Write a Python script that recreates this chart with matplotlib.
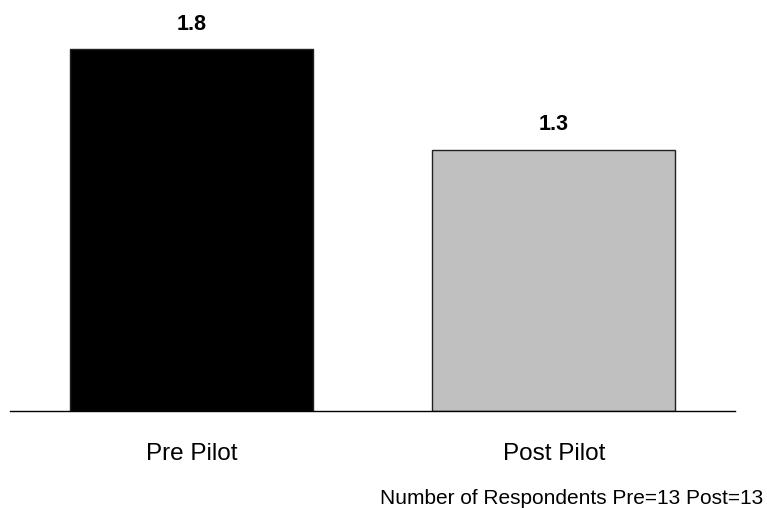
import matplotlib.pyplot as plt

# data
categories = ['Pre Pilot', 'Post Pilot']
values = [1.8, 1.3]
value_labels = ['1.8', '1.3']
bar_colors = ['#000000', '#C0C0C0']
footnote = 'Number of Respondents Pre=13 Post=13'

plt.rcParams['font.family'] = ['Liberation Sans', 'DejaVu Sans']

fig = plt.figure(figsize=(7.67, 5.08), dpi=100)
ax = fig.add_axes([10 / 767, 97 / 508, 725 / 767, 402 / 508])

x = range(len(categories))
bars = ax.bar(x, values, width=0.67, color=bar_colors,
              edgecolor='#202020', linewidth=1)

for bar, lab in zip(bars, value_labels):
    ax.annotate(lab, (bar.get_x() + bar.get_width() / 2, bar.get_height()),
                xytext=(0, 18), textcoords='offset points',
                ha='center', va='center', fontsize=15.5, fontweight='bold')

ax.set_xlim(-0.5, 1.5)
ax.set_ylim(0, 2.0)
ax.set_xticks(list(x))
ax.set_xticklabels(categories, fontsize=17.5)
ax.tick_params(axis='x', length=0, pad=23)
ax.set_yticks([])

for side in ['top', 'right', 'left']:
    ax.spines[side].set_visible(False)
ax.spines['bottom'].set_color('black')
ax.spines['bottom'].set_linewidth(1)

fig.text(763 / 767, 10 / 508, footnote, ha='right', va='center', fontsize=15)

fig.savefig('out.png', dpi=100)
